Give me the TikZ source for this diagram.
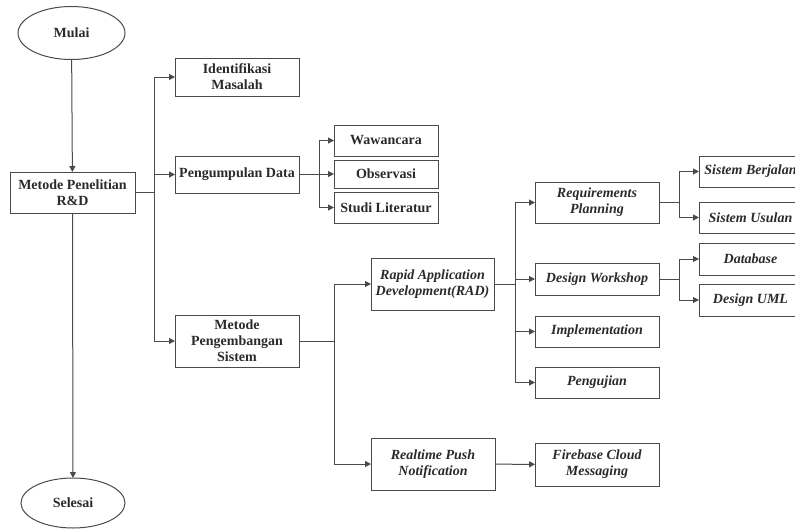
\documentclass[tikz,border=0pt]{standalone}
\usepackage{fontspec}
\setmainfont{Liberation Serif}
\usetikzlibrary{arrows.meta,shapes.geometric}
\definecolor{ln}{HTML}{4A4A4A}
\definecolor{tx}{HTML}{2A2A2A}
\begin{document}
\begin{tikzpicture}[x=1pt,y=-1pt,
  every node/.style={inner sep=0pt,outer sep=0pt,text=tx,align=center,
    font=\fontsize{14}{16}\selectfont\bfseries},
  boxr/.style={draw=ln,line width=1pt,rectangle,minimum width=#1},
  boxr/.default=124,
  ital/.style={font=\fontsize{14}{16}\selectfont\bfseries\itshape},
  oval/.style={draw=ln,line width=1pt,ellipse},
  arr/.style={draw=ln,line width=1pt,-{Triangle[length=6pt,width=6pt]}},
  ln/.style={draw=ln,line width=1pt}]
\useasboundingbox (0,0) rectangle (795,528);
% terminals
\node[oval,minimum width=107,minimum height=53] (mulai) at (71.5,33) {Mulai};
\node[oval,minimum width=104,minimum height=50] (selesai) at (73,503) {Selesai};
% level 1
\node[boxr=125,minimum height=41] (metode) at (72.5,192.5) {Metode Penelitian\\R\&D};
% level 2
\node[boxr,minimum height=38] (ident) at (237,77) {Identifikasi\\Masalah};
\node[boxr,minimum height=37] (kumpul) at (237,174.5) {Pengumpulan Data};
\node[boxr,minimum height=52] (kembang) at (237,341) {Metode\\Pengembangan\\Sistem};
% data collection
\node[boxr=104,minimum height=31] (waw) at (386,140.5) {Wawancara};
\node[boxr=104,minimum height=28] (obs) at (386,174) {Observasi};
\node[boxr=104,minimum height=31] (studi) at (386,207.5) {Studi Literatur};
% system development
\node[boxr=123,minimum height=52,ital] (rad) at (432.5,284) {Rapid Application\\Development(RAD)};
\node[boxr,minimum height=52,ital] (rt) at (433,464) {Realtime Push\\Notification};
\node[boxr,minimum height=43,ital] (fcm) at (597,464.5) {Firebase Cloud\\Messaging};
% RAD phases
\node[boxr,minimum height=41,ital] (req) at (597,202.5) {Requirements\\Planning};
\node[boxr,minimum height=32,ital] (dw) at (597,279) {Design Workshop};
\node[boxr,minimum height=31,ital] (impl) at (597,331.5) {Implementation};
\node[boxr,minimum height=31,ital] (uji) at (597,382.5) {Pengujian};
% right column (cut by the page edge)
\node[boxr=103,minimum height=31,ital] (sb) at (750.5,171.5) {Sistem Berjalan};
\node[boxr=103,minimum height=31,ital] (su) at (750.5,217.5) {Sistem Usulan};
\node[boxr=103,minimum height=32,ital] (db) at (750.5,259) {Database};
\node[boxr=103,minimum height=32,ital] (uml) at (750.5,300) {Design UML};
% junctions
\coordinate (j1) at (154,192.5);
\coordinate (j2) at (319,174.5);
\coordinate (j3) at (334,341);
\coordinate (j4) at (515,284);
\coordinate (j5) at (679,202.5);
\coordinate (j6) at (679,279);
% connectors
\draw[arr] (mulai) -- (metode);
\draw[arr] (metode) -- (selesai);
\draw[ln] (metode.east) -- (j1);
\draw[arr] (j1) |- (ident.west);
\draw[arr] (j1) |- (kumpul.west);
\draw[arr] (j1) |- (kembang.west);
\draw[ln] (kumpul.east) -- (j2);
\draw[arr] (j2) |- (waw.west);
\draw[arr] (j2) |- (obs.west);
\draw[arr] (j2) |- (studi.west);
\draw[ln] (kembang.east) -- (j3);
\draw[arr] (j3) |- (rad.west);
\draw[arr] (j3) |- (rt.west);
\draw[arr] (rt) -- (fcm);
\draw[ln] (rad.east) -- (j4);
\draw[arr] (j4) |- (req.west);
\draw[arr] (j4) |- (dw.west);
\draw[arr] (j4) |- (impl.west);
\draw[arr] (j4) |- (uji.west);
\draw[ln] (req.east) -- (j5);
\draw[arr] (j5) |- (sb.west);
\draw[arr] (j5) |- (su.west);
\draw[ln] (dw.east) -- (j6);
\draw[arr] (j6) |- (db.west);
\draw[arr] (j6) |- (uml.west);
\end{tikzpicture}
\end{document}
